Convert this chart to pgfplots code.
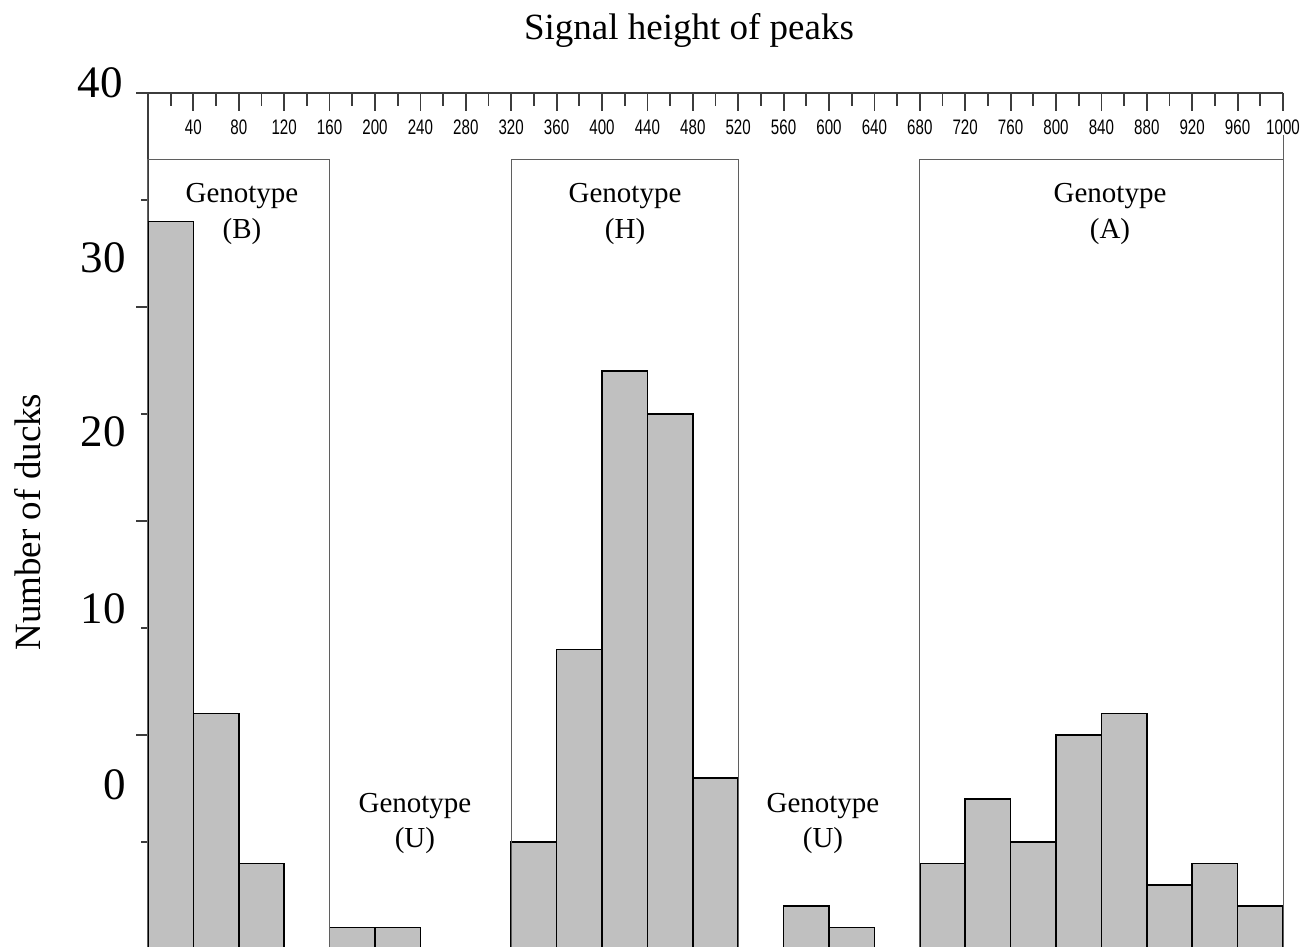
\documentclass[border=0pt]{standalone}
\usepackage{pgfplots}
\pgfplotsset{compat=1.18}
\usepackage{fontspec}
\setmainfont{Liberation Serif}
\setsansfont{Liberation Sans}
\newfontfamily\narrowsans[FakeStretch=0.72]{Liberation Sans}
\usetikzlibrary{calc}
\definecolor{barfill}{RGB}{192,192,192}
\definecolor{boxline}{RGB}{95,95,95}
\definecolor{axisc}{RGB}{60,60,60}
\pgfplotstableread{
x y
0 34
40 11
80 4
120 0
160 1
200 1
240 0
280 0
320 5
360 14
400 27
440 25
480 8
520 0
560 2
600 1
640 0
680 4
720 7
760 5
800 10
840 11
880 3
920 4
960 2
1000 0
}\counts
\begin{document}
\begin{tikzpicture}
\begin{axis}[name=ax, scale only axis, width=567.5pt, height=428pt,
  xmin=0, xmax=1000, ymin=0, ymax=40, clip=false,
  axis x line*=top, axis y line*=left,
  axis line style={line width=1pt, axisc},
  tick align=inside,
  xtick={40,80,...,1000},
  minor xtick={20,60,...,980},
  major tick length=9pt, minor tick length=6.5pt,
  tick style={line width=0.9pt, axisc},
  scaled x ticks=false,
  /pgf/number format/1000 sep={},
  /pgf/number format/assume math mode=true,
  xticklabel style={font=\narrowsans\fontsize{10.5}{12}\selectfont, anchor=north, yshift=-10pt},
  ytick=\empty,
  extra y ticks={32.29,24.16,15.89,7.66},
  extra y tick labels={30,20,10,0},
  extra y tick style={tick style={draw=none}, yticklabel style={font=\fontsize{22.5}{22.5}\selectfont, xshift=-7.5pt}},
]
\addplot[ybar interval, fill=barfill, draw=black, line width=0.8pt] table[x=x, y=y] {\counts};
% y-axis tick marks
\pgfplotsinvokeforeach{10,20,30,40}{\draw[axisc, line width=0.9pt] (axis cs:0,#1) -- ++(-6pt,0);}
\pgfplotsinvokeforeach{5,15,25,35}{\draw[axisc, line width=0.9pt] (axis cs:0,#1) -- ++(-3.5pt,0);}
% label of the top y tick (above the axis range)
\node[font=\fontsize{22.5}{22.5}\selectfont, anchor=east, inner sep=0pt] at ($(axis cs:0,40.47)+(-12.5pt,0)$) {40};
% genotype boxes
\draw[boxline, line width=0.5pt] (axis cs:0,0) rectangle (axis cs:160,36.9);
\draw[boxline, line width=0.5pt] (axis cs:320,0) rectangle (axis cs:520,36.9);
\draw[boxline, line width=0.5pt] (axis cs:680,0) rectangle (axis cs:1000,36.9);
\draw[boxline, line width=0.5pt] (axis cs:1000,36.9) -- (axis cs:1000,38.04);
% genotype labels
\begin{scope}[every node/.style={font=\fontsize{14.5}{14.5}\selectfont, anchor=base, inner sep=0pt}]
\node at (axis cs:82.8,34.86) {Genotype};
\node at (axis cs:82.8,33.22) {(B)};
\node at (axis cs:420.3,34.86) {Genotype};
\node at (axis cs:420.3,33.22) {(H)};
\node at (axis cs:847.6,34.86) {Genotype};
\node at (axis cs:847.6,33.22) {(A)};
\node at (axis cs:235.2,6.36) {Genotype};
\node at (axis cs:235.2,4.72) {(U)};
\node at (axis cs:594.7,6.36) {Genotype};
\node at (axis cs:594.7,4.72) {(U)};
\end{scope}
% titles
\node[font=\fontsize{18.5}{18.5}\selectfont, anchor=base, inner sep=0pt] at ($(axis cs:476.7,40)+(0,26.5pt)$) {Signal height of peaks};
\node[font=\fontsize{18.5}{18.5}\selectfont, rotate=90, anchor=base, inner sep=0pt] at ($(axis cs:0,19.95)+(-53.5pt,0)$) {Number of ducks};
\end{axis}
\pgfresetboundingbox
\path ($(ax.south west)+(-74pt,1pt)$) rectangle ($(ax.south west)+(577pt,474.5pt)$);
\end{tikzpicture}
\end{document}
